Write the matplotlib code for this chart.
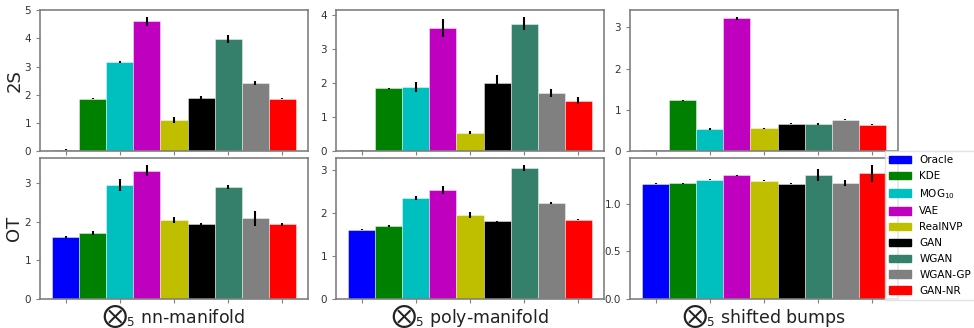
import matplotlib
matplotlib.use("Agg")
import matplotlib.pyplot as plt
from matplotlib.ticker import MultipleLocator, FormatStrFormatter
import numpy as np

models = ["Oracle", "KDE", "MOG$_{10}$", "VAE", "RealNVP",
          "GAN", "WGAN", "WGAN-GP", "GAN-NR"]
colors = ["#0000ff", "#008000", "#00bfbf", "#bf00bf", "#bfbf00",
          "#000000", "#35806a", "#808080", "#ff0000"]

datasets = ["nn-manifold", "poly-manifold", "shifted bumps"]
metrics = ["2S", "OT"]

# 2S metric
nn_2s = [0.05, 1.86, 3.15, 4.61, 1.09, 1.90, 3.97, 2.42, 1.85]
nn_2s_err = [0.01, 0.01, 0.04, 0.16, 0.10, 0.07, 0.15, 0.06, 0.02]
poly_2s = [0.02, 1.84, 1.89, 3.61, 0.54, 2.01, 3.75, 1.70, 1.48]
poly_2s_err = [0.01, 0.01, 0.14, 0.27, 0.05, 0.22, 0.20, 0.11, 0.10]
bumps_2s = [0.02, 1.23, 0.53, 3.22, 0.55, 0.66, 0.66, 0.76, 0.64]
bumps_2s_err = [0.005, 0.005, 0.02, 0.04, 0.02, 0.01, 0.02, 0.01, 0.01]

# OT metric
nn_ot = [1.61, 1.71, 2.95, 3.33, 2.05, 1.94, 2.90, 2.09, 1.94]
nn_ot_err = [0.02, 0.06, 0.15, 0.15, 0.07, 0.03, 0.06, 0.20, 0.04]
poly_ot = [1.61, 1.69, 2.35, 2.53, 1.96, 1.81, 3.05, 2.23, 1.84]
poly_ot_err = [0.01, 0.02, 0.05, 0.10, 0.07, 0.01, 0.07, 0.02, 0.01]
bumps_ot = [1.21, 1.214, 1.25, 1.30, 1.24, 1.21, 1.30, 1.22, 1.32]
bumps_ot_err = [0.005, 0.005, 0.005, 0.005, 0.005, 0.005, 0.06, 0.03, 0.09]

values = [[nn_2s, poly_2s, bumps_2s], [nn_ot, poly_ot, bumps_ot]]
errors = [[nn_2s_err, poly_2s_err, bumps_2s_err],
          [nn_ot_err, poly_ot_err, bumps_ot_err]]

fig = plt.figure(figsize=(9.74, 3.28), dpi=100)

lefts = [40, 336, 630]
tops = [10, 158]
width_px, height_px = 268, 141
W, H = 974.0, 328.0

axes = [[None] * 3 for _ in range(2)]
x = np.arange(len(models))
for r in range(2):
    for c in range(3):
        ax = fig.add_axes([lefts[c] / W, 1 - (tops[r] + height_px) / H,
                           width_px / W, height_px / H])
        ax.bar(x, values[r][c], width=1.0, color=colors,
               edgecolor=(1, 1, 1, 0.6), linewidth=0.5,
               yerr=errors[r][c], error_kw=dict(ecolor="black", elinewidth=1.5,
                                                capsize=0))
        ax.set_xticks([0, 2, 4, 6, 8])
        ax.set_xticklabels([])
        for s in ax.spines.values():
            s.set_color("#808080")
            s.set_linewidth(1.2)
        ax.tick_params(colors="#808080", labelcolor="#333333", labelsize=7.5,
                       length=3, width=0.8, direction="out")
        if c == 0:
            ax.set_ylabel(metrics[r], fontsize=13, color="#222222")
            ax.yaxis.set_label_coords(-0.062, 0.5)
        if r == 1:
            ax.set_xlabel(r"${\bigotimes}_5$ " + datasets[c],
                          fontsize=12.5, color="#222222")
            ax.xaxis.set_label_coords(0.5, -0.025)
        axes[r][c] = ax

# shifted bumps OT axis uses half-unit ticks
axes[1][2].yaxis.set_major_locator(MultipleLocator(0.5))
axes[1][2].yaxis.set_major_formatter(FormatStrFormatter("%.1f"))

handles = [plt.Rectangle((0, 0), 1, 1, color=col) for col in colors]
axes[1][2].legend(handles, models, loc="upper left",
                  bbox_to_anchor=(885 / W, 1 - 151 / H),
                  bbox_transform=fig.transFigure, borderaxespad=0,
                  fontsize=7.5, labelspacing=0.56, handlelength=2.1,
                  handleheight=0.75, framealpha=0.8, fancybox=False,
                  edgecolor="#dddddd")

fig.savefig("out.png", dpi=100)
